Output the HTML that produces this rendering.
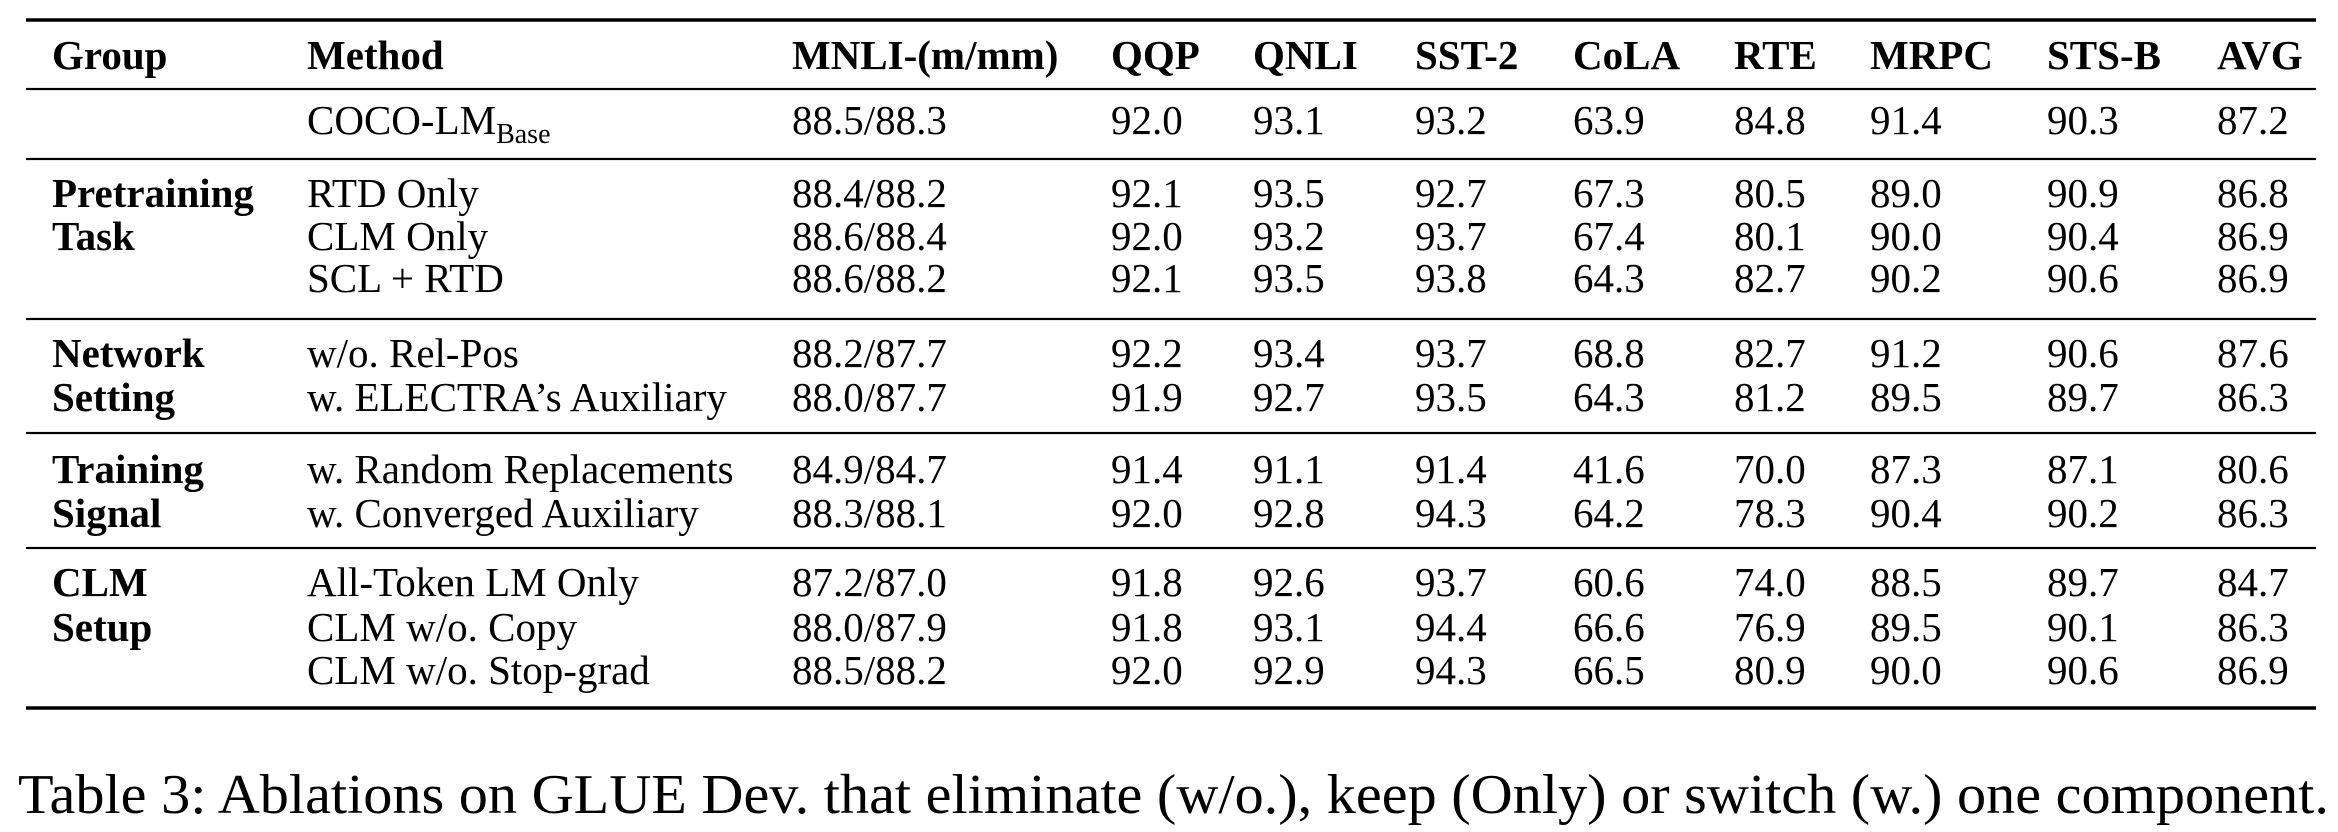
<!DOCTYPE html>
<html><head><meta charset="utf-8"><style>
html,body{margin:0;padding:0;background:#fff;}
svg{display:block;font-family:"Liberation Serif",serif;}
</style></head><body>
<svg id="tbl" width="2338" height="832" viewBox="0 0 2338 832" xmlns="http://www.w3.org/2000/svg"></svg>
<script>
const headers = ["Group","Method","MNLI-(m/mm)","QQP","QNLI","SST-2","CoLA","RTE","MRPC","STS-B","AVG"];
const methods = ["COCO-LM","RTD Only","CLM Only","SCL + RTD","w/o. Rel-Pos","w. ELECTRA\u2019s Auxiliary","w. Random Replacements","w. Converged Auxiliary","All-Token LM Only","CLM w/o. Copy","CLM w/o. Stop-grad"];
const mnli = ["88.5/88.3","88.4/88.2","88.6/88.4","88.6/88.2","88.2/87.7","88.0/87.7","84.9/84.7","88.3/88.1","87.2/87.0","88.0/87.9","88.5/88.2"];
const qqp  = [92.0,92.1,92.0,92.1,92.2,91.9,91.4,92.0,91.8,91.8,92.0];
const qnli = [93.1,93.5,93.2,93.5,93.4,92.7,91.1,92.8,92.6,93.1,92.9];
const sst2 = [93.2,92.7,93.7,93.8,93.7,93.5,91.4,94.3,93.7,94.4,94.3];
const cola = [63.9,67.3,67.4,64.3,68.8,64.3,41.6,64.2,60.6,66.6,66.5];
const rte  = [84.8,80.5,80.1,82.7,82.7,81.2,70.0,78.3,74.0,76.9,80.9];
const mrpc = [91.4,89.0,90.0,90.2,91.2,89.5,87.3,90.4,88.5,89.5,90.0];
const stsb = [90.3,90.9,90.4,90.6,90.6,89.7,87.1,90.2,89.7,90.1,90.6];
const avg  = [87.2,86.8,86.9,86.9,87.6,86.3,80.6,86.3,84.7,86.3,86.9];
const groups = [["Pretraining","Task"],["Network","Setting"],["Training","Signal"],["CLM","Setup"]];
const groupRowStart = [1,4,6,8];

const svg = document.getElementById('tbl');
const NS = "http://www.w3.org/2000/svg";
const colX = [52,307,792,1111,1253,1415,1573,1734,1870,2047,2217];
const rowC = [120,193,236,278,353,397,469,513,582,627,670];
const FS = 41;
function txt(x,y,s,bold,name,size){
  const t=document.createElementNS(NS,'text');
  t.setAttribute('x',x);t.setAttribute('y',y);
  t.setAttribute('font-size',size||FS);
  if(bold)t.setAttribute('font-weight','bold');
  t.textContent=s;
  
  
  svg.appendChild(t);return t;
}
function rule(y,w,name){
  const r=document.createElementNS(NS,'rect');
  r.setAttribute('x',26);r.setAttribute('y',y-w/2);r.setAttribute('width',2290);r.setAttribute('height',w);
  r.setAttribute('fill','#000');
  
  
  svg.appendChild(r);
}
rule(20,3.5,'top-rule');rule(89,2.2,'header-rule');rule(159,2.2,'base-rule');
rule(319,2.2,'pretraining-rule');rule(433,2.2,'network-rule');rule(548,2.2,'training-rule');rule(708,3.5,'bottom-rule');
headers.forEach((h,i)=>txt(colX[i],69,h,true,'header-'+h.toLowerCase().replace(/[^a-z0-9]+/g,'-')));
const cols=[qqp,qnli,sst2,cola,rte,mrpc,stsb,avg];
methods.forEach((m,r)=>{
  const y=rowC[r]+14;
  const t=txt(colX[1],y,m,false,'method-cell');
  if(r===0){
    const s=document.createElementNS(NS,'tspan');
    s.setAttribute('font-size',28);s.setAttribute('dy',9);s.textContent='Base';
    t.appendChild(s);
  }
  txt(colX[2],y,mnli[r],false,'mnli-cell');
  cols.forEach((c,j)=>txt(colX[3+j],y,Number(c[r]).toFixed(1),false,'score-cell-'+headers[3+j].toLowerCase().replace(/[^a-z0-9]+/g,'-')));
});
groups.forEach((g,i)=>{
  g.forEach((w,k)=>txt(colX[0],rowC[groupRowStart[i]+k]+14,w,true,'group-label'));
});
const cap=txt(18,813,'Table 3: Ablations on GLUE Dev. that eliminate (w/o.), keep (Only) or switch (w.) one component.',false,'table-caption',56);
cap.setAttribute('textLength',2311);cap.setAttribute('lengthAdjust','spacingAndGlyphs');
</script>
</body></html>
